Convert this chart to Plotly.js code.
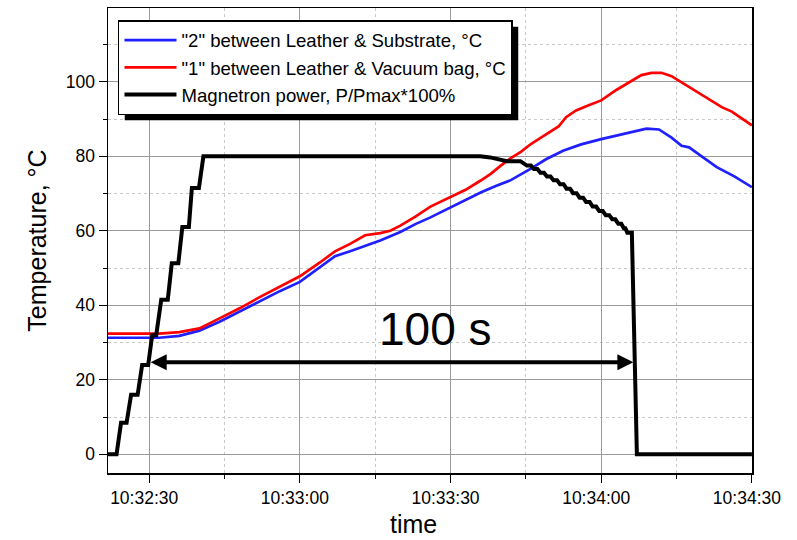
<!DOCTYPE html>
<html>
<head>
<meta charset="utf-8">
<script src="https://cdn.plot.ly/plotly-3.0.1.min.js"></script>
<style>
  html, body { margin: 0; padding: 0; background: #ffffff; }
  #chart { width: 797px; height: 540px; }
</style>
</head>
<body>
<div id="chart"></div>
<script>
// Calendar day used only to anchor clock times on a date axis
const DAY = '2000-01-01 ';

// Sensor "2": between leather and substrate
const substrateTime = ['10:32:21', '10:32:32', '10:32:36', '10:32:40', '10:32:44', '10:32:48', '10:32:52',
  '10:32:56', '10:33:00', '10:33:04', '10:33:07', '10:33:10', '10:33:13', '10:33:16', '10:33:20',
  '10:33:23', '10:33:26', '10:33:30', '10:33:33', '10:33:36', '10:33:39', '10:33:42', '10:33:46',
  '10:33:49', '10:33:52.4', '10:33:56', '10:34:00', '10:34:03', '10:34:06', '10:34:09', '10:34:11.5',
  '10:34:14', '10:34:16', '10:34:17.5', '10:34:20', '10:34:23', '10:34:26.5', '10:34:30'];
const substrateTemp = [31.3, 31.3, 31.8, 33.2, 35.6, 38.3, 41.2,
  43.8, 46.3, 50.2, 53.2, 54.5, 56.0, 57.4, 59.7,
  61.8, 63.6, 66.3, 68.3, 70.3, 72.0, 73.6, 76.7,
  79.2, 81.5, 83.2, 84.6, 85.6, 86.6, 87.4, 87.2,
  85.0, 82.8, 82.4, 80.0, 77.1, 74.6, 71.7];

// Sensor "1": between leather and vacuum bag
const bagTime = ['10:32:21', '10:32:32', '10:32:36', '10:32:40', '10:32:44', '10:32:48', '10:32:52',
  '10:32:56', '10:33:00', '10:33:04', '10:33:07', '10:33:10', '10:33:13', '10:33:16', '10:33:18',
  '10:33:20', '10:33:23', '10:33:26', '10:33:30', '10:33:33', '10:33:36', '10:33:38', '10:33:40',
  '10:33:42', '10:33:44', '10:33:46', '10:33:48', '10:33:50', '10:33:51.5', '10:33:53', '10:33:55',
  '10:33:57.5', '10:34:00', '10:34:03', '10:34:06', '10:34:08', '10:34:10', '10:34:12', '10:34:14',
  '10:34:16', '10:34:18', '10:34:20', '10:34:22', '10:34:24', '10:34:26', '10:34:28', '10:34:30'];
const bagTemp = [32.4, 32.4, 32.8, 33.8, 36.5, 39.2, 42.2,
  45.0, 47.8, 51.5, 54.5, 56.5, 58.8, 59.4, 60.0,
  61.4, 63.8, 66.5, 69.0, 71.0, 73.5, 75.3, 77.5,
  79.5, 81.2, 83.3, 85.0, 86.6, 88.0, 90.5, 92.3,
  93.7, 95.0, 97.8, 100.2, 101.8, 102.4, 102.4, 101.5,
  99.8, 98.2, 96.6, 94.8, 93.2, 92.0, 90.2, 88.3];

// Magnetron power as percentage of maximum
const powerTime = ['10:32:21', '10:32:23.5', '10:32:24.4', '10:32:25.5', '10:32:26.4', '10:32:27.7',
  '10:32:28.6', '10:32:29.8', '10:32:30.6', '10:32:31.4', '10:32:32.4', '10:32:33.7', '10:32:34.5',
  '10:32:35.8', '10:32:36.6', '10:32:37.9', '10:32:38.5', '10:32:39.9', '10:32:40.8',
  '10:33:35.9', '10:33:37.9', '10:33:39.9', '10:33:41.2', '10:33:43.9', '10:33:45.2', '10:33:46.0',
  '10:33:46.6', '10:33:47.3', '10:33:47.9', '10:33:48.6', '10:33:49.2', '10:33:49.9', '10:33:50.5',
  '10:33:51.2', '10:33:51.8', '10:33:52.5', '10:33:53.1', '10:33:53.8', '10:33:54.4', '10:33:55.1',
  '10:33:55.7', '10:33:56.4', '10:33:57.0', '10:33:57.7', '10:33:58.3', '10:33:59.0', '10:33:59.6',
  '10:34:00.3', '10:34:00.9', '10:34:01.6', '10:34:02.2', '10:34:02.8', '10:34:03.4', '10:34:04.0',
  '10:34:04.5', '10:34:04.8', '10:34:05.2', '10:34:06.1', '10:34:07.1', '10:34:30'];
const powerPct = [0, 0, 8.5, 8.5, 16, 16,
  24, 24, 32, 32, 41.5, 41.5, 51.3,
  51.3, 61, 61, 71.5, 71.5, 80,
  80, 79.7, 79.2, 78.7, 78.7, 77.5, 77.5,
  76.6, 76.6, 75.6, 75.6, 74.6, 74.6, 73.6,
  73.6, 72.5, 72.5, 71.3, 71.3, 70.1, 70.1,
  68.9, 68.9, 67.7, 67.7, 66.5, 66.5, 65.3,
  65.3, 64.2, 64.2, 63.1, 63.1, 61.9, 61.9,
  60.7, 60.7, 59.5, 59.5, 0, 0];

// Heating interval marker
const spanStart = '10:32:30';
const spanEnd = '10:34:06.4';
const spanLevel = 24.7;
const spanLabel = '100 s';
const spanLabelTime = '10:33:27.1';
const spanLabelLevel = 33.6;

const names = ['"2" between Leather & Substrate, \u00B0C',
               '"1" between Leather & Vacuum bag, \u00B0C',
               'Magnetron power, P/Pmax*100%'];

const stamp = arr => arr.map(t => DAY + t);

const traces = [
  { x: stamp(substrateTime), y: substrateTemp, name: names[0], mode: 'lines',
    line: { color: '#1f1fff', width: 2.7 } },
  { x: stamp(bagTime), y: bagTemp, name: names[1], mode: 'lines',
    line: { color: '#ff0000', width: 2.7 } },
  { x: stamp(powerTime), y: powerPct, name: names[2], mode: 'lines',
    line: { color: '#000000', width: 4 } }
];

const FONT = 'Liberation Sans, Arial, sans-serif';
const M = { l: 108, r: 45, t: 8, b: 67 };
const W = 797, H = 540;

const layout = {
  width: W, height: H,
  margin: M,
  paper_bgcolor: '#ffffff', plot_bgcolor: '#ffffff',
  font: { family: FONT, color: '#000000', size: 17 },
  showlegend: true,
  legend: {
    x: 0.0155, y: 0.974, xanchor: 'left', yanchor: 'top',
    bgcolor: '#ffffff', bordercolor: '#000000', borderwidth: 1.5,
    font: { family: FONT, size: 18.6, color: '#000000' },
    itemwidth: 52, tracegroupgap: 0
  },
  xaxis: {
    type: 'date',
    range: [DAY + '10:32:21.8', DAY + '10:34:30.02'],
    tick0: DAY + '10:32:30', dtick: 30000,
    tickformat: '%H:%M:%S',
    ticks: 'outside', ticklen: 8, tickwidth: 1, tickcolor: '#000000',
    ticklabelshift: -5,
    showline: true, linecolor: '#000000', linewidth: 1.5, mirror: true,
    showgrid: true, gridcolor: '#9a9a9a', gridwidth: 1,
    zeroline: false,
    tickfont: { family: FONT, size: 17.5 },
    minor: { dtick: 15000, tick0: DAY + '10:32:30', showgrid: true, gridcolor: '#c8c8c8',
             griddash: '3px,3px', gridwidth: 1, ticks: 'outside', ticklen: 4, tickcolor: '#000000' }
  },
  yaxis: {
    range: [-5, 119.8],
    dtick: 20, tick0: 0,
    ticks: 'outside', ticklen: 8, tickwidth: 1, tickcolor: '#000000',
    showline: true, linecolor: '#000000', linewidth: 1.5, mirror: true,
    showgrid: true, gridcolor: '#9a9a9a', gridwidth: 1,
    zeroline: false,
    tickfont: { family: FONT, size: 17.5 },
    title: { text: 'Temperature, \u00B0C', font: { family: FONT, size: 25 }, standoff: 12 },
    minor: { dtick: 10, showgrid: true, gridcolor: '#c8c8c8',
             griddash: '3px,3px', gridwidth: 1, ticks: 'outside', ticklen: 4, tickcolor: '#000000' }
  },
  shapes: [],
  annotations: [
    // x axis caption
    { xref: 'paper', yref: 'paper', x: 0.475, y: -0.11, xanchor: 'center', yanchor: 'middle',
      text: 'time', showarrow: false, font: { family: FONT, size: 25, color: '#000000' } },
    // double-headed arrow spanning the heating interval
    { xref: 'x', yref: 'y', axref: 'x', ayref: 'y',
      x: DAY + spanEnd, y: spanLevel, ax: DAY + spanStart, ay: spanLevel,
      text: '', showarrow: true, arrowside: 'end+start',
      arrowhead: 2, startarrowhead: 2, arrowsize: 0.8, startarrowsize: 0.8,
      arrowwidth: 4, arrowcolor: '#000000', standoff: 0, startstandoff: 0 },
    { xref: 'x', yref: 'y', x: DAY + spanLabelTime, y: spanLabelLevel,
      text: spanLabel, showarrow: false, xanchor: 'center', yanchor: 'middle',
      font: { family: FONT, size: 46, color: '#000000' } }
  ]
};

const gd = document.getElementById('chart');
Plotly.newPlot(gd, traces, layout, { displayModeBar: false, staticPlot: true }).then(() => {
  // drop shadow offset down-right from the rendered legend box
  const bg = gd.querySelector('.legend .bg');
  if (!bg) return;
  const r = bg.getBoundingClientRect();
  const host = gd.getBoundingClientRect();
  const pw = W - M.l - M.r, ph = H - M.t - M.b;
  const off = 6;
  const left = r.left - host.left + off, right = r.right - host.left + off;
  const top = r.top - host.top + off, bottom = r.bottom - host.top + off;
  return Plotly.relayout(gd, {
    shapes: [{
      type: 'rect', xref: 'paper', yref: 'paper', layer: 'above',
      x0: (left - M.l) / pw, x1: (right - M.l) / pw,
      y0: (H - M.b - bottom) / ph, y1: (H - M.b - top) / ph,
      fillcolor: '#000000', line: { width: 0 }
    }]
  });
});
</script>
</body>
</html>
